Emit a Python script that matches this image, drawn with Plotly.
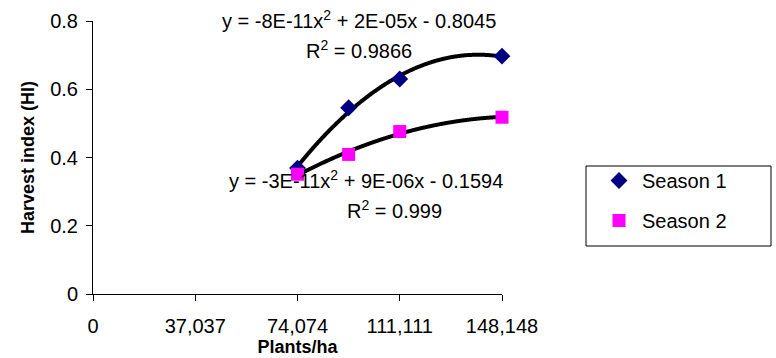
import numpy as np
import plotly.graph_objects as go

# Plant density (plants/ha) and harvest index for two seasons
density = [74074, 92593, 111111, 148148]
hi_season1 = [0.369, 0.546, 0.630, 0.697]
hi_season2 = [0.351, 0.409, 0.476, 0.518]

x_tickvals = [0, 37037, 74074, 111111, 148148]
x_ticktext = ["0", "37,037", "74,074", "111,111", "148,148"]
y_tickvals = [0, 0.2, 0.4, 0.6, 0.8]

FONT = "Liberation Sans, Arial, sans-serif"
TXT = 20

fig = go.Figure()

# Second-order polynomial trend lines fitted to each season
xs = np.linspace(min(density), max(density), 200)
for hi in (hi_season1, hi_season2):
    coef = np.polyfit(density, hi, 2)
    fig.add_trace(go.Scatter(
        x=xs, y=np.polyval(coef, xs), mode="lines",
        line=dict(color="black", width=4, shape="spline"),
        showlegend=False, hoverinfo="skip",
    ))

fig.add_trace(go.Scatter(
    x=density, y=hi_season1, mode="markers", name="Season 1", legendgroup="s1",
    marker=dict(symbol="diamond", size=13, color="#000080"),
    cliponaxis=False,
))
fig.add_trace(go.Scatter(
    x=density, y=hi_season2, mode="markers", name="Season 2", legendgroup="s2",
    marker=dict(symbol="square", size=13, color="#FF00FF"),
    cliponaxis=False,
))

# Trend-line equations
annotations = [
    dict(x=0.650, y=1.004, text="y = -8E-11x<sup>2</sup> + 2E-05x - 0.8045"),
    dict(x=0.650, y=0.897, text="R<sup>2</sup> = 0.9866"),
    dict(x=0.667, y=0.418, text="y = -3E-11x<sup>2</sup> + 9E-06x - 0.1594"),
    dict(x=0.736, y=0.308, text="R<sup>2</sup> = 0.999"),
]
for a in annotations:
    fig.add_annotation(
        x=a["x"], y=a["y"], text=a["text"], showarrow=False,
        xref="paper", yref="paper", xanchor="center", yanchor="middle",
        font=dict(family=FONT, size=TXT, color="black"),
    )

# Legend frame
fig.add_shape(
    type="rect", xref="paper", yref="paper",
    x0=(586 - 93) / 409, x1=(771 - 93) / 409,
    y0=(294 - 246) / 273, y1=(294 - 166) / 273,
    line=dict(color="black", width=1), fillcolor="rgba(0,0,0,0)",
)

fig.update_layout(
    width=776, height=358,
    margin=dict(l=93, r=274, t=21, b=64),
    paper_bgcolor="white", plot_bgcolor="white",
    font=dict(family=FONT, size=TXT, color="black"),
    legend=dict(
        x=(596 - 93) / 409, y=(294 - 161) / 273, xanchor="left", yanchor="top",
        borderwidth=0, bgcolor="rgba(0,0,0,0)",
        font=dict(family=FONT, size=TXT, color="black"),
        itemwidth=36, tracegroupgap=11, traceorder="grouped",
    ),
    xaxis=dict(
        range=[0, 148148], tickvals=x_tickvals, ticktext=x_ticktext,
        showline=True, linecolor="black", linewidth=1,
        ticks="outside", ticklen=6, tickcolor="black", automargin=False,
        showgrid=False, zeroline=False, ticklabelstandoff=8,
        title=dict(text="<b>Plants/ha</b>", font=dict(family=FONT, size=18), standoff=2),
    ),
    yaxis=dict(
        range=[0, 0.8], tickvals=y_tickvals,
        showline=True, linecolor="black", linewidth=1,
        ticks="outside", ticklen=6, tickcolor="black", automargin=False,
        showgrid=False, zeroline=False, ticklabelstandoff=4,
        title=dict(text="<b>Harvest index (HI)</b>", font=dict(family=FONT, size=18), standoff=10),
    ),
)

fig.write_html("out.html")
